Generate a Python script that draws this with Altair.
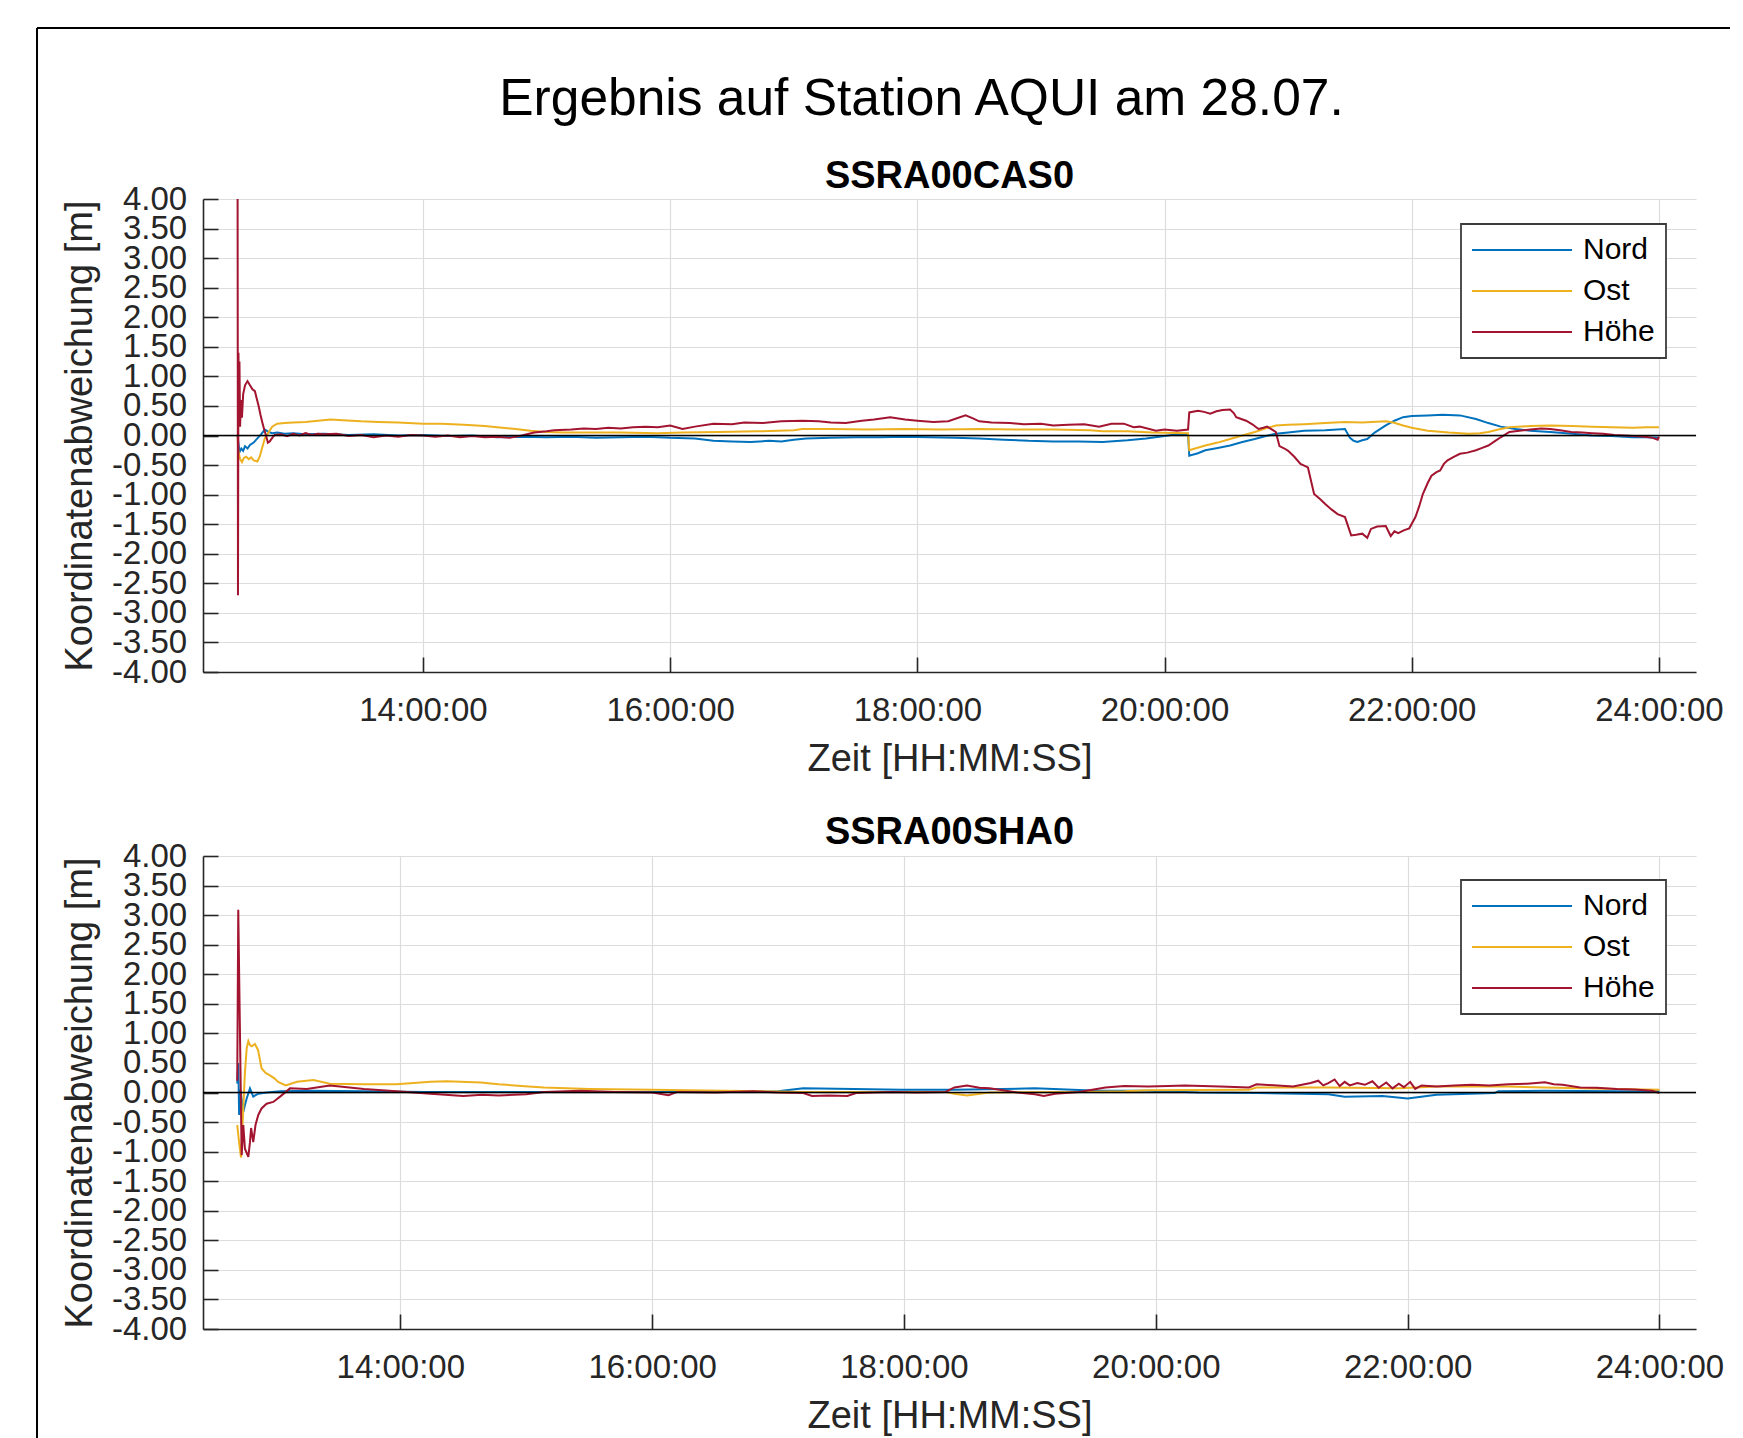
import altair as alt
import pandas as pd

SERIES = ["Nord", "Ost", "Höhe"]
COLORS = ["#0072BD", "#EDB120", "#A2142F"]
MAIN_TITLE = "Ergebnis auf Station AQUI am 28.07."
PANEL_TITLES = ["SSRA00CAS0", "SSRA00SHA0"]
X_TITLE = "Zeit [HH:MM:SS]"
Y_TITLE = "Koordinatenabweichung [m]"
X_TICKS = [14, 16, 18, 20, 22, 24]
Y_TICKS = [-4.0, -3.5, -3.0, -2.5, -2.0, -1.5, -1.0, -0.5, 0.0, 0.5, 1.0, 1.5, 2.0, 2.5, 3.0, 3.5, 4.0]
X_DOMAINS = [[12.22, 24.30], [12.433, 24.29]]
Y_DOMAIN = [-4.0, 4.0]

# ---------------- Panel 1: SSRA00CAS0 ----------------
p1_nord_t = [12.50, 12.505, 12.515, 12.53, 12.545, 12.56, 12.58, 12.60, 12.63, 12.66, 12.69, 12.72, 12.75, 12.78,
             12.82, 12.88, 12.95, 13.05, 13.2, 13.4, 13.6, 13.8, 14.0, 14.2, 14.4, 14.6, 14.8, 15.0, 15.2, 15.4,
             15.6, 15.8, 16.0, 16.2, 16.35, 16.5, 16.65, 16.8, 16.9, 17.0, 17.1, 17.3, 17.5, 17.7, 17.9, 18.1,
             18.3, 18.5, 18.7, 18.9, 19.1, 19.3, 19.5, 19.7, 19.85, 20.0, 20.1, 20.19, 20.20, 20.27, 20.33, 20.43,
             20.53, 20.63, 20.73, 20.82, 20.9, 21.0, 21.13, 21.3, 21.46, 21.50, 21.53, 21.56, 21.6, 21.64, 21.7,
             21.79, 21.86, 21.93, 22.0, 22.13, 22.25, 22.39, 22.52, 22.62, 22.72, 22.84, 22.96, 23.12, 23.3, 23.46,
             23.62, 23.79, 23.9, 24.0]
p1_nord_v = [0.0, -0.10, -0.28, -0.22, -0.26, -0.18, -0.22, -0.16, -0.12, -0.05, 0.02, 0.10, 0.06, 0.04,
             0.05, 0.03, 0.04, 0.02, 0.03, 0.01, 0.02, 0.0, 0.01, -0.01, 0.0, -0.03, -0.02, -0.03, -0.02, -0.04,
             -0.03, -0.02, -0.04, -0.05, -0.09, -0.10, -0.11, -0.09, -0.10, -0.07, -0.05, -0.04, -0.03, -0.03, -0.02, -0.03,
             -0.04, -0.05, -0.07, -0.09, -0.10, -0.10, -0.11, -0.08, -0.05, -0.01, 0.02, 0.03, -0.34, -0.30, -0.25, -0.21,
             -0.17, -0.11, -0.06, -0.01, 0.03, 0.05, 0.08, 0.09, 0.11, -0.04, -0.09, -0.11, -0.08, -0.06, 0.05,
             0.17, 0.25, 0.31, 0.33, 0.34, 0.35, 0.34, 0.28, 0.21, 0.15, 0.11, 0.08, 0.06, 0.03, 0.0,
             -0.01, -0.03, -0.03, -0.04]

p1_ost_t = [12.50, 12.505, 12.52, 12.535, 12.55, 12.57, 12.59, 12.61, 12.63, 12.66, 12.68, 12.70, 12.72, 12.75,
            12.78, 12.82, 12.88, 12.95, 13.05, 13.15, 13.25, 13.35, 13.5, 13.64, 13.8, 14.0, 14.15, 14.33, 14.5,
            14.6, 14.75, 14.87, 15.0, 15.14, 15.3, 15.6, 15.9, 16.1, 16.4, 16.7, 17.0, 17.07, 17.3, 17.6, 17.9,
            18.2, 18.5, 18.8, 19.1, 19.4, 19.5, 19.7, 19.9, 20.19, 20.20, 20.33, 20.43, 20.53, 20.63, 20.73, 20.82,
            20.9, 21.0, 21.13, 21.3, 21.46, 21.6, 21.79, 21.85, 21.93, 22.0, 22.13, 22.3, 22.46, 22.55, 22.62,
            22.7, 22.79, 22.96, 23.12, 23.3, 23.46, 23.62, 23.79, 23.9, 24.0]
p1_ost_v = [0.0, -0.25, -0.40, -0.45, -0.38, -0.36, -0.40, -0.37, -0.42, -0.44, -0.35, -0.20, -0.05, 0.05,
            0.15, 0.20, 0.21, 0.22, 0.23, 0.25, 0.27, 0.26, 0.24, 0.23, 0.22, 0.20, 0.20, 0.18, 0.16,
            0.14, 0.11, 0.08, 0.06, 0.05, 0.05, 0.05, 0.04, 0.05, 0.06, 0.07, 0.09, 0.11, 0.11, 0.10, 0.11,
            0.10, 0.11, 0.10, 0.10, 0.09, 0.07, 0.07, 0.05, 0.04, -0.25, -0.17, -0.12, -0.06, 0.0, 0.06, 0.12,
            0.17, 0.18, 0.19, 0.21, 0.23, 0.22, 0.24, 0.22, 0.17, 0.13, 0.08, 0.05, 0.03, 0.04, 0.06,
            0.10, 0.14, 0.16, 0.17, 0.16, 0.15, 0.14, 0.13, 0.14, 0.14]

p1_hoehe_t = [12.500, 12.503, 12.507, 12.511, 12.515, 12.52, 12.527, 12.535, 12.545, 12.56, 12.58, 12.60, 12.62,
              12.64, 12.655, 12.67, 12.685, 12.70, 12.715, 12.73, 12.745, 12.76, 12.78, 12.80, 12.85, 12.9, 12.95,
              13.0, 13.05, 13.1, 13.15, 13.2, 13.3, 13.4, 13.5, 13.6, 13.7, 13.8, 13.9, 14.0, 14.1, 14.2, 14.3,
              14.4, 14.5, 14.6, 14.7, 14.8, 14.9, 15.0, 15.06, 15.2, 15.3, 15.4, 15.5, 15.6, 15.7, 15.8, 15.9,
              16.0, 16.1, 16.2, 16.35, 16.5, 16.6, 16.75, 16.9, 17.07, 17.2, 17.3, 17.42, 17.55, 17.65, 17.78,
              17.9, 18.0, 18.13, 18.25, 18.39, 18.45, 18.5, 18.6, 18.75, 18.86, 19.0, 19.1, 19.22, 19.35, 19.47,
              19.57, 19.67, 19.75, 19.8, 19.93, 20.0, 20.1, 20.19, 20.20, 20.27, 20.32, 20.37, 20.42, 20.47,
              20.53, 20.56, 20.58, 20.62, 20.66, 20.71, 20.76, 20.80, 20.83, 20.87, 20.9, 20.93, 20.97, 21.0,
              21.05, 21.1, 21.16, 21.21, 21.26, 21.3, 21.35, 21.4, 21.46, 21.51, 21.55, 21.6, 21.64, 21.67,
              21.72, 21.79, 21.83, 21.86, 21.89, 21.94, 21.98, 22.03, 22.06, 22.09, 22.13, 22.16, 22.2, 22.23,
              22.26, 22.29, 22.34, 22.39, 22.45, 22.52, 22.57, 22.62, 22.67, 22.72, 22.79, 22.87, 22.96, 23.05,
              23.12, 23.2, 23.29, 23.38, 23.46, 23.55, 23.64, 23.72, 23.8, 23.89, 23.95, 23.99, 24.0]
p1_hoehe_v = [4.00, -2.70, 1.40, 0.30, 1.25, 0.15, 0.60, 0.30, 0.70, 0.85, 0.92, 0.85, 0.78,
              0.75, 0.62, 0.50, 0.35, 0.22, 0.10, 0.0, -0.12, -0.10, -0.04, 0.01, 0.02, -0.01, 0.03,
              0.00, 0.04, 0.01, 0.03, 0.02, 0.03, -0.01, 0.01, -0.03, 0.00, -0.02, 0.01, 0.00, -0.02, 0.00, -0.03,
              -0.01, -0.03, -0.02, -0.04, 0.00, 0.05, 0.07, 0.09, 0.10, 0.12, 0.11, 0.13, 0.12, 0.14, 0.15, 0.14,
              0.17, 0.11, 0.15, 0.20, 0.19, 0.22, 0.21, 0.24, 0.25, 0.24, 0.22, 0.21, 0.25, 0.27, 0.31,
              0.27, 0.25, 0.23, 0.24, 0.34, 0.29, 0.24, 0.22, 0.21, 0.19, 0.20, 0.17, 0.18, 0.19, 0.15,
              0.20, 0.20, 0.14, 0.15, 0.08, 0.10, 0.08, 0.10, 0.39, 0.42, 0.40, 0.37, 0.41, 0.43,
              0.44, 0.38, 0.31, 0.28, 0.25, 0.19, 0.11, 0.13, 0.15, 0.10, 0.06, -0.18, -0.22, -0.26,
              -0.36, -0.48, -0.54, -0.99, -1.08, -1.16, -1.25, -1.33, -1.38, -1.69, -1.68, -1.66, -1.73, -1.58,
              -1.54, -1.53, -1.70, -1.62, -1.65, -1.60, -1.57, -1.38, -1.20, -0.99, -0.80, -0.68, -0.62, -0.59,
              -0.48, -0.42, -0.36, -0.31, -0.29, -0.25, -0.21, -0.17, -0.10, -0.03, 0.06, 0.08, 0.10, 0.12,
              0.11, 0.09, 0.06, 0.05, 0.04, 0.03, 0.01, 0.00, -0.01, -0.02, -0.04, -0.07, -0.02]

# ---------------- Panel 2: SSRA00SHA0 ----------------
p2_nord_t = [12.705, 12.713, 12.72, 12.73, 12.753, 12.766, 12.78, 12.806, 12.832, 12.872, 12.94, 13.045, 13.3,
             13.7, 14.2, 14.78, 15.5, 16.5, 17.0, 17.2, 17.6, 17.98, 18.4, 19.04, 19.54, 19.94, 20.34, 20.8,
             21.37, 21.5, 21.8, 22.0, 22.23, 22.69, 22.72, 23.09, 23.66, 24.0]
p2_nord_v = [0.15, 0.50, -0.38, 0.05, -0.33, -0.21, -0.10, 0.07, -0.07, -0.02, 0.00, 0.02, 0.03,
             0.02, 0.01, 0.01, 0.01, 0.01, 0.02, 0.07, 0.06, 0.045, 0.045, 0.07, 0.03, 0.03, 0.00, -0.01,
             -0.03, -0.07, -0.06, -0.10, -0.04, -0.01, 0.02, 0.03, 0.02, 0.02]

p2_ost_t = [12.705, 12.72, 12.735, 12.75, 12.765, 12.78, 12.793, 12.806, 12.82, 12.845, 12.87, 12.898, 12.93,
            12.965, 13.0, 13.03, 13.09, 13.18, 13.31, 13.44, 13.71, 13.97, 14.24, 14.37, 14.64, 14.78, 14.96,
            15.14, 15.5, 16.0, 16.56, 17.2, 17.62, 18.33, 18.4, 18.5, 18.68, 19.39, 19.75, 19.94, 20.74, 20.8,
            21.37, 21.94, 22.23, 22.8, 23.09, 23.66, 24.0]
p2_ost_v = [-0.55, -0.85, -1.10, -0.40, 0.30, 0.75, 0.87, 0.80, 0.78, 0.82, 0.72, 0.41, 0.33,
            0.29, 0.24, 0.18, 0.12, 0.18, 0.21, 0.15, 0.14, 0.14, 0.18, 0.19, 0.17, 0.14, 0.11,
            0.085, 0.06, 0.045, 0.03, 0.01, 0.01, 0.01, -0.02, -0.05, 0.00, 0.01, 0.02, 0.04, 0.045, 0.085,
            0.085, 0.07, 0.10, 0.10, 0.085, 0.06, 0.045]

p2_hoehe_t = [12.705, 12.713, 12.74, 12.753, 12.766, 12.793, 12.806, 12.815, 12.832, 12.85, 12.872, 12.898,
              12.938, 12.991, 13.045, 13.124, 13.257, 13.44, 13.52, 13.71, 13.97, 14.24, 14.50, 14.65, 14.78,
              15.0, 15.14, 15.43, 15.7, 16.0, 16.13, 16.2, 16.5, 16.8, 17.0, 17.2, 17.27, 17.4, 17.55, 17.62,
              17.9, 18.1, 18.33, 18.4, 18.5, 18.6, 18.68, 18.9, 19.04, 19.11, 19.2, 19.39, 19.6, 19.75, 19.94,
              20.1, 20.23, 20.51, 20.74, 20.8, 21.09, 21.23, 21.29, 21.33, 21.37, 21.42, 21.46, 21.5, 21.54,
              21.6, 21.66, 21.72, 21.77, 21.83, 21.88, 21.93, 21.97, 22.02, 22.06, 22.11, 22.23, 22.37, 22.51,
              22.65, 22.8, 22.95, 23.09, 23.16, 23.23, 23.37, 23.5, 23.66, 23.8, 23.94, 24.0]
p2_hoehe_v = [0.20, 3.09, -1.06, -0.55, -0.95, -1.09, -0.84, -0.60, -0.84, -0.55, -0.38, -0.27,
              -0.19, -0.16, -0.07, 0.07, 0.06, 0.12, 0.10, 0.06, 0.02, -0.02, -0.06, -0.04, -0.05,
              -0.03, 0.01, 0.03, 0.01, 0.00, -0.045, 0.01, 0.00, 0.02, 0.00, -0.01, -0.06, -0.05, -0.06, -0.01,
              0.01, 0.00, 0.01, 0.085, 0.12, 0.08, 0.07, 0.00, -0.03, -0.06, -0.02, 0.01, 0.085, 0.11, 0.10,
              0.11, 0.12, 0.10, 0.085, 0.14, 0.10, 0.16, 0.20, 0.12, 0.16, 0.22, 0.11, 0.18, 0.12,
              0.16, 0.13, 0.19, 0.08, 0.17, 0.07, 0.15, 0.09, 0.18, 0.06, 0.12, 0.10, 0.12, 0.13,
              0.12, 0.14, 0.15, 0.175, 0.14, 0.13, 0.085, 0.08, 0.06, 0.05, 0.03, -0.01]

PANELS = [
    {"nord": (p1_nord_t, p1_nord_v), "ost": (p1_ost_t, p1_ost_v), "hoehe": (p1_hoehe_t, p1_hoehe_v)},
    {"nord": (p2_nord_t, p2_nord_v), "ost": (p2_ost_t, p2_ost_v), "hoehe": (p2_hoehe_t, p2_hoehe_v)},
]

FONT = "Liberation Sans"
TXT = "#262626"
PLOT_W, PLOT_H = 1493, 473


def make_panel(i, legend_y, title_offset, x_title_pad, with_frame):
    d = PANELS[i]
    x_axis = alt.Axis(values=X_TICKS, labelExpr="datum.value + ':00:00'", title=X_TITLE,
                      tickSize={"expr": "-15"}, labelPadding=37.7, titlePadding=x_title_pad,
                      labelFlush=False, labelOverlap=False)
    y_axis = alt.Axis(values=Y_TICKS,
                      labelExpr="(datum.value < 0 ? '-' : '') + format(abs(datum.value), '.2f')",
                      title=Y_TITLE, tickSize={"expr": "-15"}, labelPadding=31.3, titlePadding=12,
                      labelOverlap=False, labelFlush=False)
    xs = alt.Scale(domain=X_DOMAINS[i], nice=False, zero=False)
    ys = alt.Scale(domain=Y_DOMAIN, nice=False, zero=False)
    legend = alt.Legend(title=None, orient="none", legendX=1258, legendY=legend_y)
    cscale = alt.Scale(domain=SERIES, range=COLORS)

    layers = []
    for key, name in zip(["nord", "ost", "hoehe"], SERIES):
        t, v = d[key]
        df = pd.DataFrame({"t": t, "v": v, "s": name})
        layers.append(
            alt.Chart(df).mark_line(strokeWidth=2).encode(
                x=alt.X("t:Q", scale=xs, axis=x_axis),
                y=alt.Y("v:Q", scale=ys, axis=y_axis),
                color=alt.Color("s:N", scale=cscale, legend=legend),
            )
        )
    zero = alt.Chart(pd.DataFrame({"v": [0.0]})).mark_rule(color="#000000", strokeWidth=1.6).encode(
        y=alt.Y("v:Q", scale=ys, axis=y_axis)
    )
    layers.append(zero)
    if with_frame:
        fdf = pd.DataFrame({"k": [0]})
        top = alt.Chart(fdf).mark_rule(color="#000000", strokeWidth=2).encode(
            x=alt.value(-166), x2=alt.value(1527), y=alt.value(-171))
        left = alt.Chart(fdf).mark_rule(color="#000000", strokeWidth=2).encode(
            x=alt.value(-166), y=alt.value(-171), y2=alt.value(1260))
        layers += [top, left]
    return alt.layer(*layers).properties(
        width=PLOT_W, height=PLOT_H,
        title=alt.TitleParams(PANEL_TITLES[i], font=FONT, fontSize=38, fontWeight="bold",
                              color="#000000", anchor="middle", offset=title_offset),
    )


p1 = make_panel(0, 25, -169, 13, True)
p2 = make_panel(1, 24, -12, 13, False)

chart = alt.vconcat(
    p1, p2, spacing=184, bounds="flush",
    title=alt.TitleParams(MAIN_TITLE, font=FONT, fontSize=51.5, fontWeight="normal", color="#000000",
                          anchor="middle", frame="group", offset=-98.5, dx=-28),
).resolve_scale(
    x="independent", y="independent", color="independent"
).resolve_legend(
    color="independent"
).configure_view(
    strokeWidth=0
).configure_axis(
    domainColor=TXT, domainWidth=1.6, tickColor=TXT, tickWidth=1.6,
    gridColor="#dcdcdc", gridWidth=1.2,
    labelFont=FONT, labelFontSize=33, labelColor=TXT,
    titleFont=FONT, titleFontSize=38, titleFontWeight="normal", titleColor=TXT,
).configure_legend(
    padding=11, rowPadding=11, labelFont=FONT, labelFontSize=30, labelColor="#000000",
    symbolType="M-1.5,0H8.5", symbolSize=400, symbolStrokeWidth=2, labelOffset=81,
    fillColor="#ffffff", strokeColor="#3c3c3c", strokeWidth=1.8,
).properties(
    padding={"left": 28, "top": 19, "right": 0, "bottom": 0}
)

chart.save("out.html", embed_options={"renderer": "svg", "actions": False})
